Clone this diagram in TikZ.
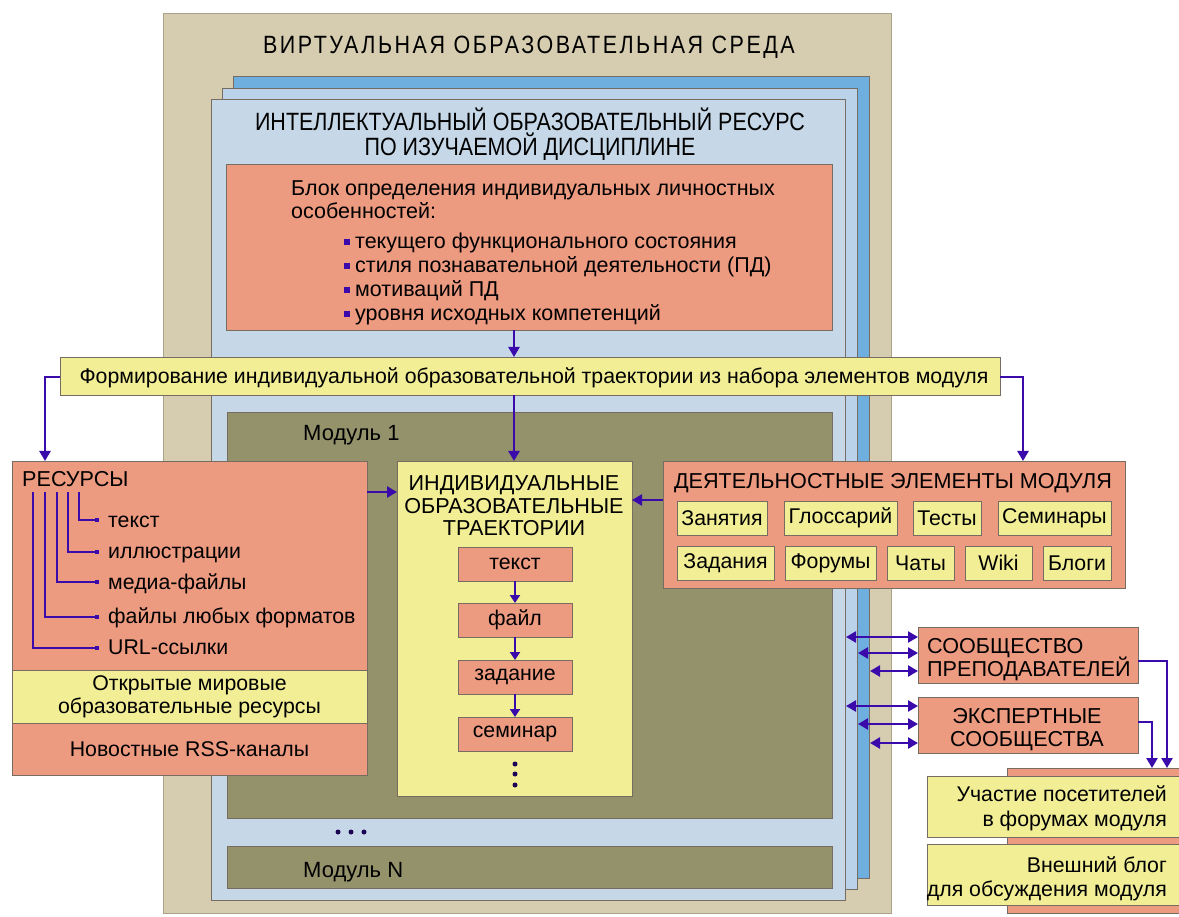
\documentclass[tikz,border=0pt]{standalone}
\usepackage{fontspec}
\setmainfont{Liberation Sans}
\newfontfamily\condfont[FakeStretch=0.86]{Liberation Sans}
\newfontfamily\spacedfont[FakeStretch=0.86,LetterSpace=10]{Liberation Sans}
\usetikzlibrary{arrows.meta}

\definecolor{envtan}{RGB}{214,205,176}
\definecolor{layerfront}{RGB}{198,216,232}
\definecolor{layermid}{RGB}{186,210,234}
\definecolor{layerback}{RGB}{110,175,224}
\definecolor{salmon}{RGB}{236,154,128}
\definecolor{paleyel}{RGB}{241,238,150}
\definecolor{olive}{RGB}{148,146,106}
\definecolor{arrowc}{RGB}{58,10,170}
\definecolor{edge}{RGB}{118,108,98}

\newcommand{\bulsq}{{\color{arrowc}\rule[0.2em]{0.26em}{0.26em}}\hspace{0.25em}}

\tikzset{
  panel/.style={draw=edge, line width=0.7pt, inner sep=0pt, outer sep=0pt, anchor=north west},
  salbox/.style={panel, fill=salmon},
  yelbox/.style={panel, fill=paleyel},
  chip/.style={panel, fill=paleyel, anchor=center, minimum height=34pt},
  stepchip/.style={panel, fill=salmon, anchor=center, minimum width=114pt, minimum height=34pt},
  txt/.style={inner sep=0pt, anchor=base},
  txtl/.style={inner sep=0pt, anchor=base west},
  txtr/.style={inner sep=0pt, anchor=base east},
  ptext/.style={font=\fontsize{21.5}{26}\selectfont},
  mtext/.style={font=\fontsize{22}{26}\selectfont},
  ctext/.style={font=\fontsize{21.6}{23}\selectfont},
  link/.style={draw=arrowc, line width=2.4pt, -{Triangle[length=10pt,width=11pt]}},
  shortlink/.style={draw=arrowc, line width=2.2pt, -{Triangle[length=8pt,width=10pt]}},
  twoway/.style={draw=arrowc, line width=2.4pt, {Triangle[length=10pt,width=11pt]}-{Triangle[length=10pt,width=11pt]}},
  tree/.style={draw=arrowc, line width=2pt, -{Square[length=4pt,width=4pt]}},
  dot/.style={circle, fill=arrowc!50!black, inner sep=0pt, minimum size=5pt},
}

\begin{document}
\begin{tikzpicture}[x=1pt, y=-1pt, font=\fontsize{21.3}{24}\selectfont]
\useasboundingbox (0,0) rectangle (1179,917);

% virtual environment
\node[panel, fill=envtan, draw=envtan!80!black, minimum width=728pt, minimum height=900pt] (env) at (163,13) {};
\node[txt, font=\spacedfont\fontsize{25}{28}\selectfont] (envtitle) at (529,54) {ВИРТУАЛЬНАЯ ОБРАЗОВАТЕЛЬНАЯ СРЕДА};

% stacked resource layers
\node[panel, fill=layerback, minimum width=636pt, minimum height=802pt] (back) at (233,76) {};
\node[panel, fill=layermid, minimum width=635pt, minimum height=801pt] (mid) at (222,88) {};
\node[panel, fill=layerfront, minimum width=634pt, minimum height=801pt] (front) at (211,99) {};
\node[txt, font=\condfont\fontsize{25}{28}\selectfont] (ior1) at (530,131) {ИНТЕЛЛЕКТУАЛЬНЫЙ ОБРАЗОВАТЕЛЬНЫЙ РЕСУРС};
\node[txt, font=\condfont\fontsize{25}{28}\selectfont] (ior2) at (530,156) {ПО ИЗУЧАЕМОЙ ДИСЦИПЛИНЕ};

% personal features block
\node[salbox, minimum width=606pt, minimum height=166pt] (pers) at (226,164) {};
\node[txtl, ptext] (p1) at (291,196) {Блок определения индивидуальных личностных};
\node[txtl, ptext] (p2) at (291,219) {особенностей:};
\node[txtl, ptext] (p3) at (344,249) {\bulsq текущего функционального состояния};
\node[txtl, ptext] (p4) at (344,273) {\bulsq стиля познавательной деятельности (ПД)};
\node[txtl, ptext] (p5) at (344,297) {\bulsq мотиваций ПД};
\node[txtl, ptext] (p6) at (344,321) {\bulsq уровня исходных компетенций};

% modules
\node[panel, fill=olive, minimum width=605pt, minimum height=406pt] (mod1) at (227,412) {};
\node[txtl, mtext] (mod1lbl) at (303,440) {Модуль 1};
\node[panel, fill=olive, minimum width=605pt, minimum height=42pt] (modN) at (227,846) {};
\node[txtl, mtext] (modNlbl) at (303,877) {Модуль N};
\node[dot] (e1) at (338,832) {};
\node[dot] (e2) at (351,832) {};
\node[dot] (e3) at (364,832) {};

% trajectory forming bar
\node[yelbox, minimum width=940pt, minimum height=38pt] (form) at (60,357) {};
\node[txt] (formtxt) at (534,384) {Формирование индивидуальной образовательной траектории из набора элементов модуля};

% resources
\node[salbox, minimum width=355pt, minimum height=209pt] (res) at (12,461) {};
\node[yelbox, minimum width=355pt, minimum height=53pt, align=center, anchor=center] (open) at (189.5,696.5) {Открытые мировые\\[-1pt]образовательные ресурсы};
\node[salbox, minimum width=355pt, minimum height=52pt, anchor=center] (rss) at (189.5,749) {Новостные RSS-каналы};
\node[txtl, ctext] (restitle) at (22,486) {РЕСУРСЫ};
\node[txtl] (r1) at (108,527) {текст};
\node[txtl] (r2) at (108,558) {иллюстрации};
\node[txtl] (r3) at (108,589) {медиа-файлы};
\node[txtl] (r4) at (108,623) {файлы любых форматов};
\node[txtl] (r5) at (108,654) {URL-ссылки};
\coordinate (s1) at (79,492);  \coordinate (d1) at (99,520);
\coordinate (s2) at (68,492);  \coordinate (d2) at (99,552);
\coordinate (s3) at (57,492);  \coordinate (d3) at (99,582);
\coordinate (s4) at (45,492);  \coordinate (d4) at (99,617);
\coordinate (s5) at (33,492);  \coordinate (d5) at (99,648);
\foreach \i in {1,...,5} { \draw[tree] (s\i) |- (d\i); }

% individual trajectories
\node[yelbox, minimum width=235pt, minimum height=335pt] (iot) at (397,461) {};
\node[txt, ctext] (iot1) at (514,490) {ИНДИВИДУАЛЬНЫЕ};
\node[txt, ctext] (iot2) at (514,513) {ОБРАЗОВАТЕЛЬНЫЕ};
\node[txt, ctext] (iot3) at (514,535) {ТРАЕКТОРИИ};
\node[stepchip] (t1) at (515,564) {текст};
\node[stepchip] (t2) at (515,620) {файл};
\node[stepchip] (t3) at (515,677) {задание};
\node[stepchip] (t4) at (515,734) {семинар};
\node[dot] (v1) at (515,764) {};
\node[dot] (v2) at (515,774) {};
\node[dot] (v3) at (515,785) {};
\draw[shortlink] (t1) -- (t2);
\draw[shortlink] (t2) -- (t3);
\draw[shortlink] (t3) -- (t4);

% activity elements
\node[salbox, minimum width=462pt, minimum height=127pt] (act) at (663,461) {};
\node[txt, ctext] (acttitle) at (893,488) {ДЕЯТЕЛЬНОСТНЫЕ ЭЛЕМЕНТЫ МОДУЛЯ};
\node[chip, minimum width=90pt] (a1) at (722,518) {Занятия};
\node[chip, minimum width=113pt] (a2) at (840.5,518) {Глоссарий};
\node[chip, minimum width=68pt] (a3) at (947,518) {Тесты};
\node[chip, minimum width=113pt] (a4) at (1054.5,518) {Семинары};
\node[chip, minimum width=97pt] (b1) at (725.5,563) {Задания};
\node[chip, minimum width=91pt] (b2) at (830.5,563) {Форумы};
\node[chip, minimum width=67pt] (b3) at (920.5,563) {Чаты};
\node[chip, minimum width=67pt] (b4) at (998.5,563) {Wiki};
\node[chip, minimum width=68pt] (b5) at (1077,563) {Блоги};

% communities
\node[salbox, minimum width=220pt, minimum height=56pt] (teach) at (918,627) {};
\node[txtl, ctext] (teach1) at (927,653) {СООБЩЕСТВО};
\node[txtl, ctext] (teach2) at (927,676) {ПРЕПОДАВАТЕЛЕЙ};
\node[salbox, minimum width=220pt, minimum height=56pt] (expert) at (918,697) {};
\node[txt, ctext] (exp1) at (1027,723) {ЭКСПЕРТНЫЕ};
\node[txt, ctext] (exp2) at (1027,746) {СООБЩЕСТВА};

% visitor participation
\node[salbox, minimum width=180pt, minimum height=145pt] (ext) at (1007,768) {};
\node[yelbox, minimum width=255pt, minimum height=61pt] (forum) at (927,776) {};
\node[yelbox, minimum width=255pt, minimum height=61pt] (blog) at (927,844) {};
\node[txtr] (f1) at (1167,801) {Участие посетителей};
\node[txtr] (f2) at (1167,826) {в форумах модуля};
\node[txtr] (g1) at (1167,872) {Внешний блог};
\node[txtr] (g2) at (1167,896) {для обсуждения модуля};

% connectors
\draw[link] (pers.south -| 514,0) -- (form.north -| 514,0);
\draw[link] (form.west |- 0,377) -| (res.north -| 45,0);
\draw[link] (form.east |- 0,377) -| (act.north -| 1023,0);
\draw[link] (form.south -| 514,0) -- (iot.north -| 514,0);
\draw[link] (res.east |- 0,492) -- (iot.west |- 0,492);
\draw[link] (act.west |- 0,500) -- (iot.east |- 0,500);

\coordinate (ta) at (846,637); \coordinate (tb) at (858,653); \coordinate (tc) at (870,671);
\coordinate (xa) at (846,706); \coordinate (xb) at (858,724); \coordinate (xc) at (870,743);
\foreach \c in {ta,tb,tc} { \draw[twoway] (\c) -- (\c -| teach.west); }
\foreach \c in {xa,xb,xc} { \draw[twoway] (\c) -- (\c -| expert.west); }

\draw[link] (teach.east |- 0,661) -| (ext.north -| 1167,0);
\draw[link] (expert.east |- 0,722) -| (ext.north -| 1152,0);
\end{tikzpicture}
\end{document}
